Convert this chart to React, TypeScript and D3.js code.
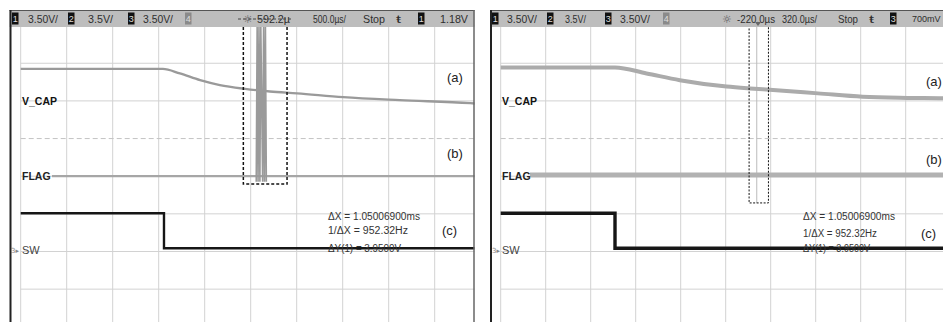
import React from 'react';
import * as d3 from 'd3';

const W = 943;
const H = 322;

// ---- data (time in divisions 0..10, level in divisions 0..8 from graticule top) ----
const leftVcapT = [0, 3.09, 3.46, 3.9, 4.33, 4.88, 5.42, 6.01, 7.01, 8.24, 9.77, 10];
const leftVcapV = [1.15, 1.15, 1.27, 1.45, 1.58, 1.68, 1.75, 1.8, 1.9, 1.98, 2.06, 2.08];
const leftFlagT = [0.68, 10];
const leftFlagV = [4.0, 4.0];
const leftGlitchT = [5.12, 5.14, 5.16, 5.18, 5.2, 5.22, 5.26, 5.28, 5.3, 5.32, 5.34];
const leftGlitchV = [4.15, 0, 4.15, 0, 4.15, 0, 4.15, 0, 4.15, 0, 4.15];
const leftSwT = [0, 3.115, 10];
const leftSwV = [4.985, 5.915, 5.915];
const leftBox = [4.84, 5.79, 4.21]; // x0, x1, bottom

const rightVcapT = [0, 2.54, 3.24, 3.98, 5.02, 5.54, 6.05, 7.05, 8.04, 9.04, 9.83, 10];
const rightVcapV = [1.11, 1.11, 1.27, 1.45, 1.62, 1.67, 1.71, 1.8, 1.89, 1.92, 1.93, 1.94];
const rightFlagT = [0.65, 10];
const rightFlagV = [3.97, 3.97];
const rightSwT = [0, 2.54, 10];
const rightSwV = [4.985, 5.915, 5.915];
const rightBox = [5.52, 5.95, 4.71];
const rightCursorInner = 5.69;

const leftHeader = [
  { k: 'box', t: '1', x: 12 }, { k: 'txt', t: '3.50V/', x: 28, w: 30 },
  { k: 'box', t: '2', x: 68 }, { k: 'txt', t: '3.5V/', x: 88, w: 25 },
  { k: 'box', t: '3', x: 128 }, { k: 'txt', t: '3.50V/', x: 143, w: 30 },
  { k: 'gbox', t: '4', x: 185 }, { k: 'sun', t: '☼', x: 243, w: 10 },
  { k: 'txt', t: '592.2µ', x: 257, w: 33 }, { k: 'txt', t: '500.0µs/', x: 313, w: 33 },
  { k: 'txt', t: 'Stop', x: 363, w: 22 }, { k: 'txt', t: 'ŧ', x: 396, w: 5 },
  { k: 'box', t: '1', x: 418 }, { k: 'txt', t: '1.18V', x: 440, w: 28 },
];
const rightHeader = [
  { k: 'box', t: '1', x: 492 }, { k: 'txt', t: '3.50V/', x: 507, w: 30 },
  { k: 'box', t: '2', x: 547 }, { k: 'txt', t: '3.5V/', x: 565, w: 21 },
  { k: 'box', t: '3', x: 605 }, { k: 'txt', t: '3.50V/', x: 620, w: 30 },
  { k: 'gbox', t: '4', x: 663 }, { k: 'sun', t: '☼', x: 722, w: 10 },
  { k: 'txt', t: '-220.0µs', x: 737, w: 38 }, { k: 'txt', t: '320.0µs/', x: 782, w: 35 },
  { k: 'txt', t: 'Stop', x: 838, w: 20 }, { k: 'txt', t: 'ŧ', x: 869, w: 5 },
  { k: 'box', t: '3', x: 890 }, { k: 'small', t: '700mV', x: 912, w: 0 },
];

const cursorLines = ['ΔX = 1.05006900ms', '1/ΔX = 952.32Hz', 'ΔY(1) = 3.9500V'];

const yScale = d3.scaleLinear().domain([0, 8]).range([25.6, 326.8]);
const zip = (a: number[], b: number[]) => a.map((v, i) => [v, b[i]] as [number, number]);

function Panel(p: any) {
  const x = d3.scaleLinear().domain([0, 10]).range([p.gx0, p.gx0 + 10 * p.divW]);
  const line = d3.line<[number, number]>().x(d => x(d[0])).y(d => yScale(d[1]));
  const curve = d3.line<[number, number]>().x(d => x(d[0])).y(d => yScale(d[1])).curve(d3.curveMonotoneX);
  const step = d3.line<[number, number]>().x(d => x(d[0])).y(d => yScale(d[1])).curve(d3.curveStepAfter);
  const id = 'clip' + p.id;
  const font = 'Liberation Sans, Arial, sans-serif';
  return (
    <g>
      <defs>
        <clipPath id={id}>
          <rect x={p.clipL} y={10} width={p.clipR - p.clipL} height={H - 10} />
        </clipPath>
      </defs>
      <g clipPath={`url(#${id})`}>
        {d3.range(0, 11).map(i => (
          <line key={'v' + i} x1={x(i)} x2={x(i)} y1={yScale(0)} y2={yScale(8)} stroke="#d2d2d2" strokeWidth={1} />
        ))}
        {d3.range(0, 9).map(j => (
          <line key={'h' + j} x1={x(0)} x2={x(10)} y1={yScale(j)} y2={yScale(j)}
            stroke={j === 3 ? '#c4c4c4' : '#d2d2d2'} strokeWidth={1} strokeDasharray={j === 3 ? '5,3' : undefined} />
        ))}
        {p.inner !== undefined && (
          <line x1={x(p.inner)} x2={x(p.inner)} y1={yScale(0)} y2={yScale(p.box[2])} stroke="#bbb" strokeWidth={1} />
        )}
        <path d={curve(zip(p.vcapT, p.vcapV)) || ''} fill="none" stroke={p.vcapColor} strokeWidth={p.vcapW} />
        <path d={line(zip(p.flagT, p.flagV)) || ''} fill="none" stroke={p.flagColor} strokeWidth={p.flagW} />
        {p.glitchT && (
          <path d={line(zip(p.glitchT, p.glitchV)) || ''} fill="none" stroke="#9a9a9a" strokeWidth={1.6} />
        )}
        <path d={step(zip(p.swT, p.swV)) || ''} fill="none" stroke="#161616" strokeWidth={p.swW} />
        <rect x={x(p.box[0])} y={yScale(0)} width={x(p.box[1]) - x(p.box[0])} height={yScale(p.box[2]) - yScale(0)}
          fill="none" stroke="#111" strokeWidth={p.boxW} strokeDasharray={p.boxDash} />
        <text x={p.labX} y={105} fontFamily={font} fontSize={10.5} fontWeight="bold" fill="#111">V_CAP</text>
        <text x={p.labX} y={179.5} fontFamily={font} fontSize={10.5} fontWeight="bold" fill="#222">FLAG</text>
        <text x={p.labX} y={254} fontFamily={font} fontSize={11} fill="#444">SW</text>
        <text x={p.markX} y={253} fontFamily="DejaVu Sans, sans-serif" fontSize={7} fill="#888">3▸</text>
        {cursorLines.map((t, i) => (
          <text key={t} x={p.curX} y={p.curY[i]} fontFamily={font} fontSize={10} fill="#333"
            textLength={p.curW[i]} lengthAdjust="spacingAndGlyphs">{t}</text>
        ))}
        <text x={p.abcX} y={p.aY} fontFamily={font} fontSize={13} fill="#222">(a)</text>
        <text x={p.abcX} y={p.bY} fontFamily={font} fontSize={13} fill="#222">(b)</text>
        <text x={p.abcX - 5} y={p.cY} fontFamily={font} fontSize={13} fill="#222">(c)</text>
      </g>
      {/* header */}
      <rect x={p.clipL} y={10} width={p.clipR - p.clipL} height={17} fill="#bdbdbd" />
      <line x1={p.clipL} x2={p.clipR} y1={10.5} y2={10.5} stroke="#555" strokeWidth={1} />
      {p.header.map((h: any, i: number) =>
        h.k === 'txt' ? (
          <text key={i} x={h.x} y={22.5} fontFamily={font} fontSize={11} fill="#2e2e2e"
            textLength={h.w} lengthAdjust="spacingAndGlyphs">{h.t}</text>
        ) : h.k === 'small' ? (
          <text key={i} x={h.x} y={22} fontFamily={font} fontSize={9} fill="#2e2e2e">{h.t}</text>
        ) : h.k === 'sun' ? (
          <text key={i} x={h.x} y={22.5} fontFamily="DejaVu Sans, sans-serif" fontSize={11} fill="#555">{h.t}</text>
        ) : (
          <g key={i}>
            <rect x={h.x} y={12.5} width={6.5} height={12} fill={h.k === 'gbox' ? '#8a8a8a' : '#111'} />
            <text x={h.x + 3.25} y={22} textAnchor="middle" fontFamily={font} fontSize={9} fill="#ddd">{h.t}</text>
          </g>
        )
      )}
      {p.markerLine && (
        <line x1={p.markerLine[0]} x2={p.markerLine[1]} y1={19} y2={19} stroke="#444" strokeWidth={1} strokeDasharray="3,2" />
      )}
      {p.tri !== undefined && (
        <path d={`M${p.tri - 3},22 L${p.tri + 3},22 L${p.tri},26 Z`} fill="#666" />
      )}
      <line x1={p.clipL + 1} x2={p.clipL + 1} y1={10} y2={H} stroke="#222" strokeWidth={2} />
      {p.rightEdge && <line x1={p.clipR - 0.5} x2={p.clipR - 0.5} y1={10} y2={H} stroke="#666" strokeWidth={1.5} />}
    </g>
  );
}

export default function App() {
  return (
    <svg width={W} height={H} style={{ position: 'absolute', left: 0, top: 0, background: '#fff' }}>
      <rect x={0} y={0} width={W} height={H} fill="#fff" />
      <Panel id="L" gx0={20.7} divW={46} clipL={9.5} clipR={474.5} rightEdge
        vcapT={leftVcapT} vcapV={leftVcapV} vcapColor="#9a9a9a" vcapW={2.4}
        flagT={leftFlagT} flagV={leftFlagV} flagColor="#a6a6a6" flagW={2.2}
        glitchT={leftGlitchT} glitchV={leftGlitchV}
        swT={leftSwT} swV={leftSwV} swW={2.4}
        box={leftBox} boxW={1.5} boxDash="3,2"
        labX={22} markX={11}
        curX={328} curY={[220, 234, 252]} curW={[92, 80, 73]}
        abcX={447} aY={82} bY={158} cY={235}
        header={leftHeader} markerLine={[238, 292]} />
      <Panel id="R" gx0={500.7} divW={45} clipL={490} clipR={943}
        vcapT={rightVcapT} vcapV={rightVcapV} vcapColor="#ababab" vcapW={4}
        flagT={rightFlagT} flagV={rightFlagV} flagColor="#b2b2b2" flagW={5}
        swT={rightSwT} swV={rightSwV} swW={3.4}
        box={rightBox} boxW={1} boxDash="2,1.5" inner={rightCursorInner}
        labX={502} markX={492}
        curX={803} curY={[219.5, 237, 252]} curW={[92, 74, 67]}
        abcX={926} aY={86} bY={164} cY={238}
        header={rightHeader} tri={758} />
    </svg>
  );
}
